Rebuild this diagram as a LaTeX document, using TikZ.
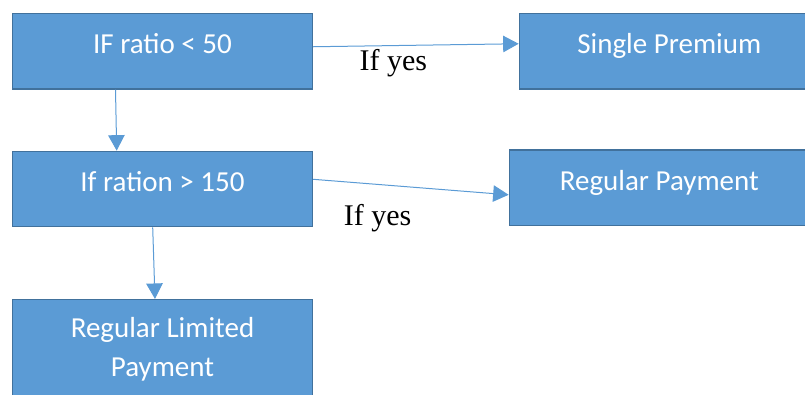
\documentclass[tikz,border=0pt]{standalone}
\usepackage{fontspec}
\setmainfont{Carlito}
\newfontfamily\labelfont{Liberation Serif}
\usepackage{tikz}
\usetikzlibrary{arrows.meta, positioning}
\definecolor{BoxBlue}{HTML}{5B9BD5}
\definecolor{BoxEdge}{HTML}{41719C}

\begin{document}
\begin{tikzpicture}[
    x=1pt, y=1pt,
    box/.style={draw=BoxEdge, fill=BoxBlue, line width=1.3pt, minimum width=300pt, minimum height=75.5pt,
                text=white, font=\fontsize{29}{35}\selectfont, text height=20pt, text depth=15pt, inner sep=0pt},
    tallbox/.style={draw=BoxEdge, fill=BoxBlue, line width=1.3pt, minimum width=300pt, minimum height=100pt,
                    text=white, font=\fontsize{29}{39}\selectfont, align=center, inner sep=0pt},
    arrow/.style={-{Triangle[length=15.5pt, width=16.5pt]}, BoxBlue, line width=1pt},
    yeslabel/.style={font=\labelfont\fontsize{30}{36}\selectfont, text=black, inner sep=0pt}
  ]
    \clip (0,0) rectangle (805,-394);

    % Decision boxes
    \node[box] (ratio) at (162.5,-51.25) {IF ratio < 50};
    \node[box, below=61pt of ratio] (ration) {If ration > 150};

    % Outcomes
    \node[box, right=205.5pt of ratio] (single) {Single Premium};
    \node[box, right=195.5pt of ration, yshift=1.25pt] (regular) {Regular Payment};
    \node[tallbox, below=71.5pt of ration] (limited) {Regular Limited\\Payment};

    % Arrows
    \draw[arrow] ([yshift=4.5pt]ratio.east) -- ([yshift=7.5pt]single.west)
      node[yeslabel, pos=0.39, below=3.6pt] (yes1) {If yes};
    \draw[arrow] ([yshift=9.75pt]ration.east) -- ([yshift=-7pt]regular.west)
      node[yeslabel, pos=0.33, below=19.4pt] (yes2) {If yes};
    \draw[arrow] ([xshift=-47pt]ratio.south) -- ([xshift=-45.8pt]ration.north);
    \draw[arrow] ([xshift=-9.8pt]ration.south) -- ([xshift=-7.5pt]limited.north);

  \end{tikzpicture}
\end{document}
